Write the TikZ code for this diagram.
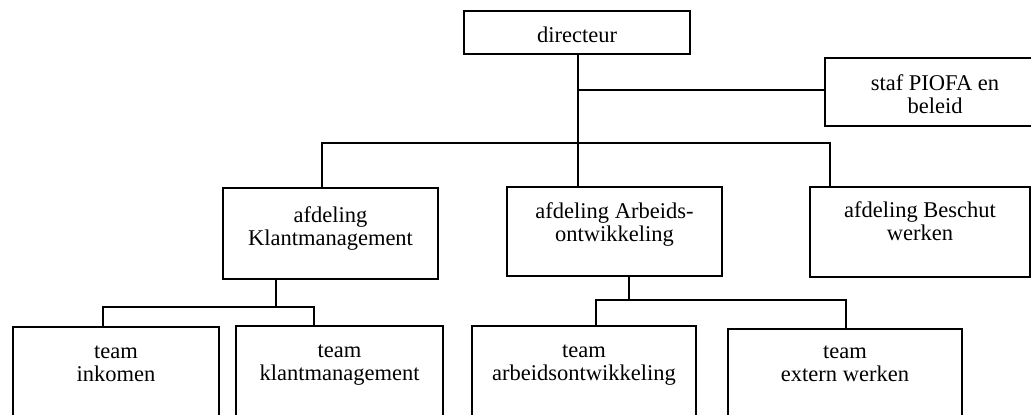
\documentclass[tikz,border=0pt]{standalone}
\usepackage{fontspec}
\setmainfont{Liberation Serif}
\begin{document}
\begin{tikzpicture}[x=1pt,y=-1pt,
  box/.style={draw=black,line width=1.4pt,inner sep=0pt,outer sep=0pt,fill=none},
  txt/.style={anchor=base,inner sep=0pt,font=\fontsize{22.5}{23.5}\selectfont},
  conn/.style={draw=black,line width=1.4pt}]
\useasboundingbox (0,0) rectangle (1031,415);
\begin{scope}
\clip (0,0) rectangle (1031,415);
% boxes
\node[box,minimum width=226pt,minimum height=43pt] (dir) at (577,32.5) {};
\node[box,minimum width=220pt,minimum height=68pt] (staf) at (935,92) {};
\node[box,minimum width=215pt,minimum height=91pt] (kl) at (330.5,233.5) {};
\node[box,minimum width=215pt,minimum height=89pt] (ar) at (614.5,231.5) {};
\node[box,minimum width=220pt,minimum height=90pt] (bs) at (920,232) {};
\node[box,minimum width=206pt,minimum height=113pt] (ti) at (116,383.5) {};
\node[box,minimum width=207pt,minimum height=114pt] (tk) at (339.5,383) {};
\node[box,minimum width=224pt,minimum height=114pt] (ta) at (584,383) {};
\node[box,minimum width=234pt,minimum height=111pt] (te) at (845,384.5) {};
% texts
\node[txt] (dirt) at (577,42) {directeur};
\node[txt] (staft) at (935,90) {\begin{tabular}[t]{@{}c@{}}staf PIOFA en\\beleid\end{tabular}};
\node[txt] (klt) at (330.5,222) {\begin{tabular}[t]{@{}c@{}}afdeling\\Klantmanagement\end{tabular}};
\node[txt] (art) at (614.5,218) {\begin{tabular}[t]{@{}c@{}}afdeling Arbeids-\\ontwikkeling\end{tabular}};
\node[txt] (bst) at (920,217) {\begin{tabular}[t]{@{}c@{}}afdeling Beschut\\werken\end{tabular}};
\node[txt] (tit) at (116,358) {\begin{tabular}[t]{@{}c@{}}team\\inkomen\end{tabular}};
\node[txt] (tkt) at (339.5,357) {\begin{tabular}[t]{@{}c@{}}team\\klantmanagement\end{tabular}};
\node[txt] (tat) at (584,357) {\begin{tabular}[t]{@{}c@{}}team\\arbeidsontwikkeling\end{tabular}};
\node[txt] (tet) at (845,358) {\begin{tabular}[t]{@{}c@{}}team\\extern werken\end{tabular}};
% junction coordinates
\coordinate (j1) at (578,143);
\coordinate (hl) at (322,143);
\coordinate (hr) at (830,143);
\coordinate (js) at (578,90);
\coordinate (kj) at (276,307);
\coordinate (kjl) at (103,307);
\coordinate (kjr) at (314,307);
\coordinate (aj) at (629,300);
\coordinate (ajl) at (596,300);
\coordinate (ajr) at (846,300);
% connectors
\draw[conn] (dir.south -| j1) -- (j1);
\draw[conn] (js) -- (staf.west |- js);
\draw[conn] (kl.north -| hl) -- (hl) -- (hr) -- (bs.north -| hr);
\draw[conn] (j1) -- (ar.north -| j1);
\draw[conn] (kl.south -| kj) -- (kj);
\draw[conn] (ti.north -| kjl) -- (kjl) -- (kjr) -- (tk.north -| kjr);
\draw[conn] (ar.south -| aj) -- (aj);
\draw[conn] (ta.north -| ajl) -- (ajl) -- (ajr) -- (te.north -| ajr);
\end{scope}
\end{tikzpicture}
\end{document}
